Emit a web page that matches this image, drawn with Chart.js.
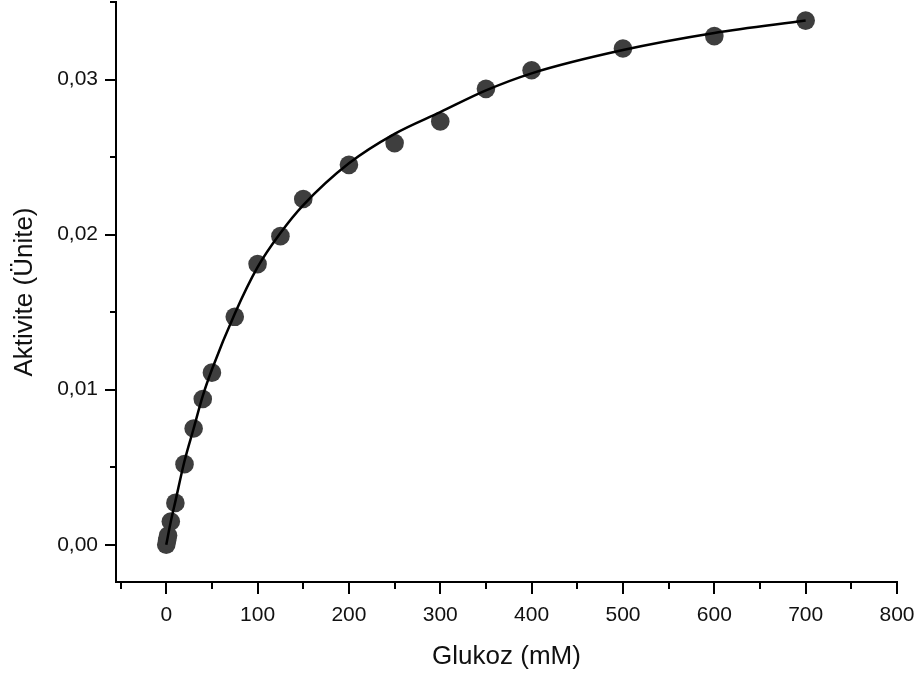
<!DOCTYPE html>
<html><head><meta charset="utf-8">
<script src="https://cdn.jsdelivr.net/npm/chart.js@4.4.1/dist/chart.umd.min.js"></script>
<style>html,body{margin:0;padding:0;background:#fff;} canvas{display:block;}</style>
</head><body>
<canvas id="c" width="920" height="679"></canvas>
<script>
// Measured data (glucose mM vs activity units)
const glucose  = [0, 1, 2, 5, 10, 20, 30, 40, 50, 75, 100, 125, 150, 200, 250, 300, 350, 400, 500, 600, 700];
const activity = [0.0000, 0.0003, 0.0006, 0.0015, 0.0027, 0.0052, 0.0075, 0.0094, 0.0111, 0.0147, 0.0181, 0.0199, 0.0223, 0.0245, 0.0259, 0.0273, 0.0294, 0.0306, 0.0320, 0.0328, 0.0338];
// Fitted curve
const fitX = [0, 5, 10, 20, 30, 40, 50, 75, 100, 125, 150, 200, 250, 300, 350, 400, 500, 600, 700];
const fitY = [0.0000, 0.0015, 0.0028, 0.0054, 0.0075, 0.0096, 0.0113, 0.0149, 0.0179, 0.0201, 0.0219, 0.0246, 0.0265, 0.0279, 0.0293, 0.0304, 0.0319, 0.0330, 0.0338];
// Axis ticks
const xTickValues = [0, 100, 200, 300, 400, 500, 600, 700, 800];
const xMinorTicks = [-50, 50, 150, 250, 350, 450, 550, 650, 750];
const yTickValues = [0, 0.01, 0.02, 0.03];
const yMinorTicks = [0.005, 0.015, 0.025, 0.035];

const FONT = '"Liberation Sans", Arial, Helvetica, sans-serif';

const tickMarks = {
  id: 'tickMarks',
  afterDraw(chart) {
    const ctx = chart.ctx, xs = chart.scales.x, ys = chart.scales.y, ca = chart.chartArea;
    ctx.save();
    ctx.strokeStyle = '#000';
    ctx.lineWidth = 2;
    const drawX = (vals, len) => vals.forEach(v => {
      const p = Math.round(xs.getPixelForValue(v));
      ctx.beginPath(); ctx.moveTo(p, ca.bottom); ctx.lineTo(p, ca.bottom + len); ctx.stroke();
    });
    const drawY = (vals, len) => vals.forEach(v => {
      const p = Math.round(ys.getPixelForValue(v));
      ctx.beginPath(); ctx.moveTo(ca.left, p); ctx.lineTo(ca.left - len, p); ctx.stroke();
    });
    drawX(xTickValues, 12); drawX(xMinorTicks, 7);
    drawY(yTickValues, 11); drawY(yMinorTicks, 6);
    ctx.restore();
  }
};

new Chart(document.getElementById('c'), {
  type: 'scatter',
  data: {
    datasets: [
      {
        type: 'line',
        data: fitX.map((x, i) => ({x: x, y: fitY[i]})),
        borderColor: '#000',
        borderWidth: 2.5,
        pointRadius: 0,
        fill: false,
        cubicInterpolationMode: 'monotone',
        order: 0
      },
      {
        data: glucose.map((x, i) => ({x: x, y: activity[i]})),
        backgroundColor: '#3e3e3e',
        borderWidth: 0,
        pointRadius: 9.3,
        clip: false,
        order: 1
      }
    ]
  },
  options: {
    responsive: false,
    animation: false,
    devicePixelRatio: 1,
    layout: {autoPadding: false, padding: {top: 2, right: 23, left: 0, bottom: 0}},
    plugins: {legend: {display: false}, tooltip: {enabled: false}},
    scales: {
      x: {
        type: 'linear', min: -55, max: 800,
        grid: {drawOnChartArea: false, drawTicks: false},
        border: {display: true, color: '#000', width: 2},
        afterBuildTicks: s => { s.ticks = xTickValues.map(v => ({value: v})); },
        afterFit: s => { s.height = 97; s.paddingLeft = 0; s.paddingRight = 0; },
        ticks: {padding: 21, color: '#111', maxRotation: 0, autoSkip: false,
                font: {family: FONT, size: 21}, callback: v => String(v)},
        title: {display: true, text: 'Glukoz (mM)', color: '#111',
                font: {family: FONT, size: 26}, padding: {top: 0, bottom: 7}}
      },
      y: {
        type: 'linear', min: -0.0024, max: 0.035,
        grid: {drawOnChartArea: false, drawTicks: false},
        border: {display: true, color: '#000', width: 2},
        afterBuildTicks: s => { s.ticks = yTickValues.map(v => ({value: v})); },
        afterFit: s => { s.width = 116; s.paddingTop = 0; s.paddingBottom = 0; },
        ticks: {padding: 18, color: '#111', autoSkip: false,
                font: {family: FONT, size: 21}, callback: v => v.toFixed(2).replace('.', ',')},
        title: {display: true, text: 'Aktivite (Ünite)', color: '#111',
                font: {family: FONT, size: 26}, padding: {top: 9, bottom: 0}}
      }
    }
  },
  plugins: [tickMarks]
});
</script>
</body></html>
